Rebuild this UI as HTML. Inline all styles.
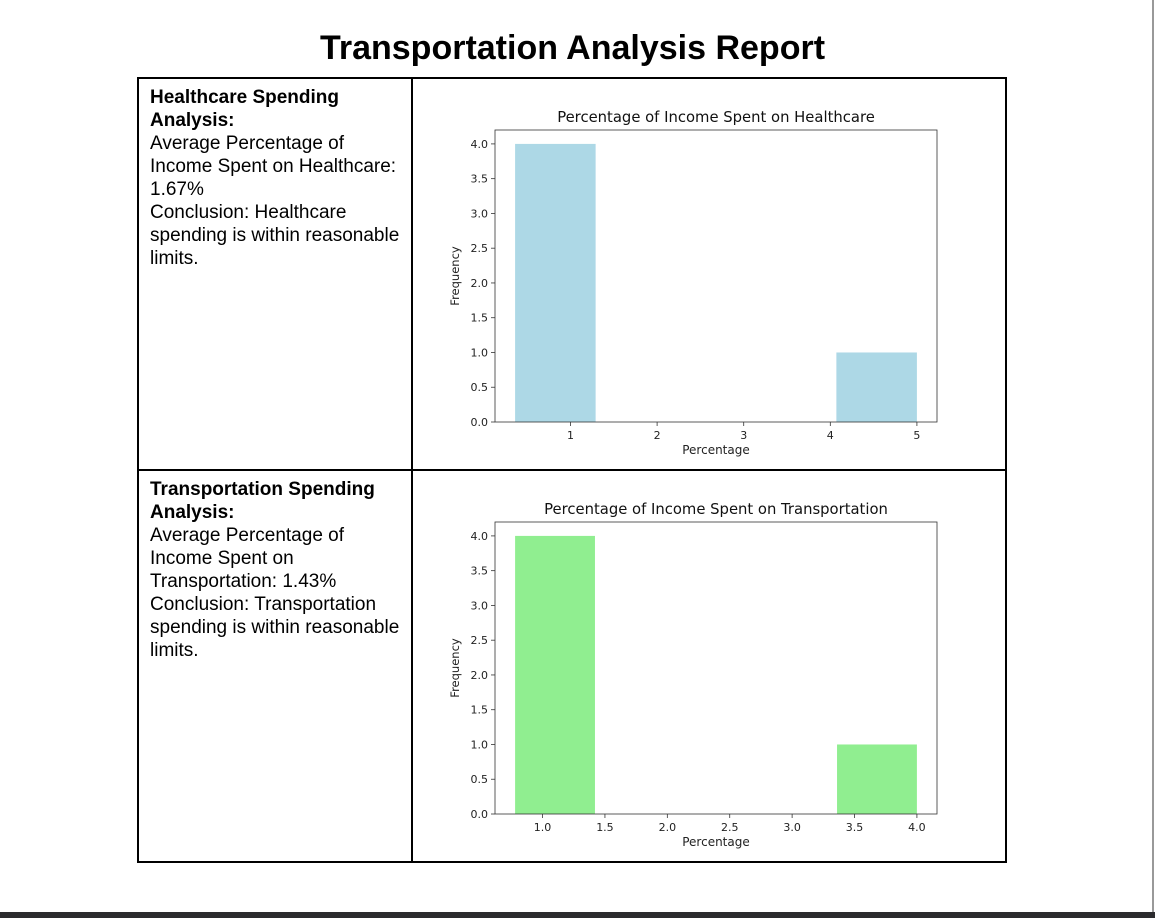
<!DOCTYPE html>
<html><head><meta charset="utf-8">
<style>
body{margin:0;width:1155px;height:918px;background:#fff;position:relative;overflow:hidden;font-family:"Liberation Sans",sans-serif;}
#title{position:absolute;left:0;width:1145px;top:28px;text-align:center;font-size:34px;font-weight:bold;margin:0;line-height:40px;}
.cell{position:absolute;box-sizing:border-box;}
.txt{position:absolute;left:150px;font-size:19px;line-height:23px;color:#000;}
.txt b{font-weight:bold;}
#bottombar{position:absolute;left:0;top:912px;width:1155px;height:6px;background:#2b2b2e;}
#rightline{position:absolute;left:1152px;top:0;width:2px;height:912px;background:#999;}
svg text{font-family:"DejaVu Sans",sans-serif;}
</style></head><body>
<h1 id="title">Transportation Analysis Report</h1>
<div class="cell" style="left:137px;top:77px;width:870px;height:786px;border:2px solid #000;"></div>
<div class="cell" style="left:411px;top:77px;width:2px;height:786px;background:#000;"></div>
<div class="cell" style="left:137px;top:469px;width:870px;height:2px;background:#000;"></div>
<div class="txt" style="top:86px;"><b>Healthcare Spending<br>Analysis:</b><br>Average Percentage of<br>Income Spent on Healthcare:<br>1.67%<br>Conclusion: Healthcare<br>spending is within reasonable<br>limits.</div>
<div class="txt" style="top:478px;"><b>Transportation Spending<br>Analysis:</b><br>Average Percentage of<br>Income Spent on<br>Transportation: 1.43%<br>Conclusion: Transportation<br>spending is within reasonable<br>limits.</div>
<svg id="chart1" style="position:absolute;left:0;top:0" width="1155" height="918"></svg>
<svg id="chart2" style="position:absolute;left:0;top:0" width="1155" height="918"></svg>
<div id="rightline"></div>
<div id="bottombar"></div>
<script>
const hcBinEdges=[0.36,1.29,2.21,3.14,4.07,5.0];
const hcCounts=[4,0,0,0,1];
const hcXTicks=[1,2,3,4,5];
const hcXTickLabels=["1","2","3","4","5"];
const trBinEdges=[0.78,1.42,2.07,2.71,3.36,4.0];
const trCounts=[4,0,0,0,1];
const trXTicks=[1.0,1.5,2.0,2.5,3.0,3.5,4.0];
const trXTickLabels=["1.0","1.5","2.0","2.5","3.0","3.5","4.0"];
const yTicks=[0,0.5,1,1.5,2,2.5,3,3.5,4];
const yTickLabels=["0.0","0.5","1.0","1.5","2.0","2.5","3.0","3.5","4.0"];
const NS="http://www.w3.org/2000/svg";
function mk(svg,tag,attrs){const e=document.createElementNS(NS,tag);for(const k in attrs)e.setAttribute(k,attrs[k]);svg.appendChild(e);return e;}
function draw(id,top,edges,counts,xt,xtl,color,title){
  const svg=document.getElementById(id);
  const L=495,R=937,T=top,B=top+292;
  const x0=edges[0]-(edges[edges.length-1]-edges[0])*0.05, x1=edges[edges.length-1]+(edges[edges.length-1]-edges[0])*0.05;
  const xs=v=>L+(v-x0)/(x1-x0)*(R-L);
  const ymax=4.2;
  const ys=v=>B-v/ymax*(B-T);
  for(let i=0;i<counts.length;i++){
    if(counts[i]<=0)continue;
    const r=mk(svg,'rect',{x:xs(edges[i]),y:ys(counts[i]),width:xs(edges[i+1])-xs(edges[i]),height:B-ys(counts[i]),fill:color});
    
    
  }
  const f=mk(svg,'rect',{x:L,y:T,width:R-L,height:B-T,fill:'none',stroke:'#333','stroke-width':0.8});
  
  
  yTicks.forEach((v,i)=>{
    mk(svg,'line',{x1:L-4,x2:L,y1:ys(v),y2:ys(v),stroke:'#333','stroke-width':0.8});
    const t=mk(svg,'text',{x:L-7,y:ys(v)+4,'font-size':11,'text-anchor':'end',fill:'#222'});
    t.textContent=yTickLabels[i];
    
    
  });
  xt.forEach((v,i)=>{
    mk(svg,'line',{x1:xs(v),x2:xs(v),y1:B,y2:B+4,stroke:'#333','stroke-width':0.8});
    const t=mk(svg,'text',{x:xs(v),y:B+17,'font-size':11,'text-anchor':'middle',fill:'#222'});
    t.textContent=xtl[i];
    
    
  });
  const tt=mk(svg,'text',{x:(L+R)/2,y:T-8,'font-size':14.8,'text-anchor':'middle',fill:'#111'});
  tt.textContent=title;
  
  
  const xl=mk(svg,'text',{x:(L+R)/2,y:B+32,'font-size':12,'text-anchor':'middle',fill:'#222'});
  xl.textContent='Percentage';
  
  
  const yl=mk(svg,'text',{x:0,y:0,'font-size':11.5,'text-anchor':'middle',fill:'#222',transform:'translate(459,'+((T+B)/2)+') rotate(-90)'});
  yl.textContent='Frequency';
  
  
}
draw('chart1',130,hcBinEdges,hcCounts,hcXTicks,hcXTickLabels,'#add8e6','Percentage of Income Spent on Healthcare');
draw('chart2',522,trBinEdges,trCounts,trXTicks,trXTickLabels,'#90ee90','Percentage of Income Spent on Transportation');
</script>
</body></html>
